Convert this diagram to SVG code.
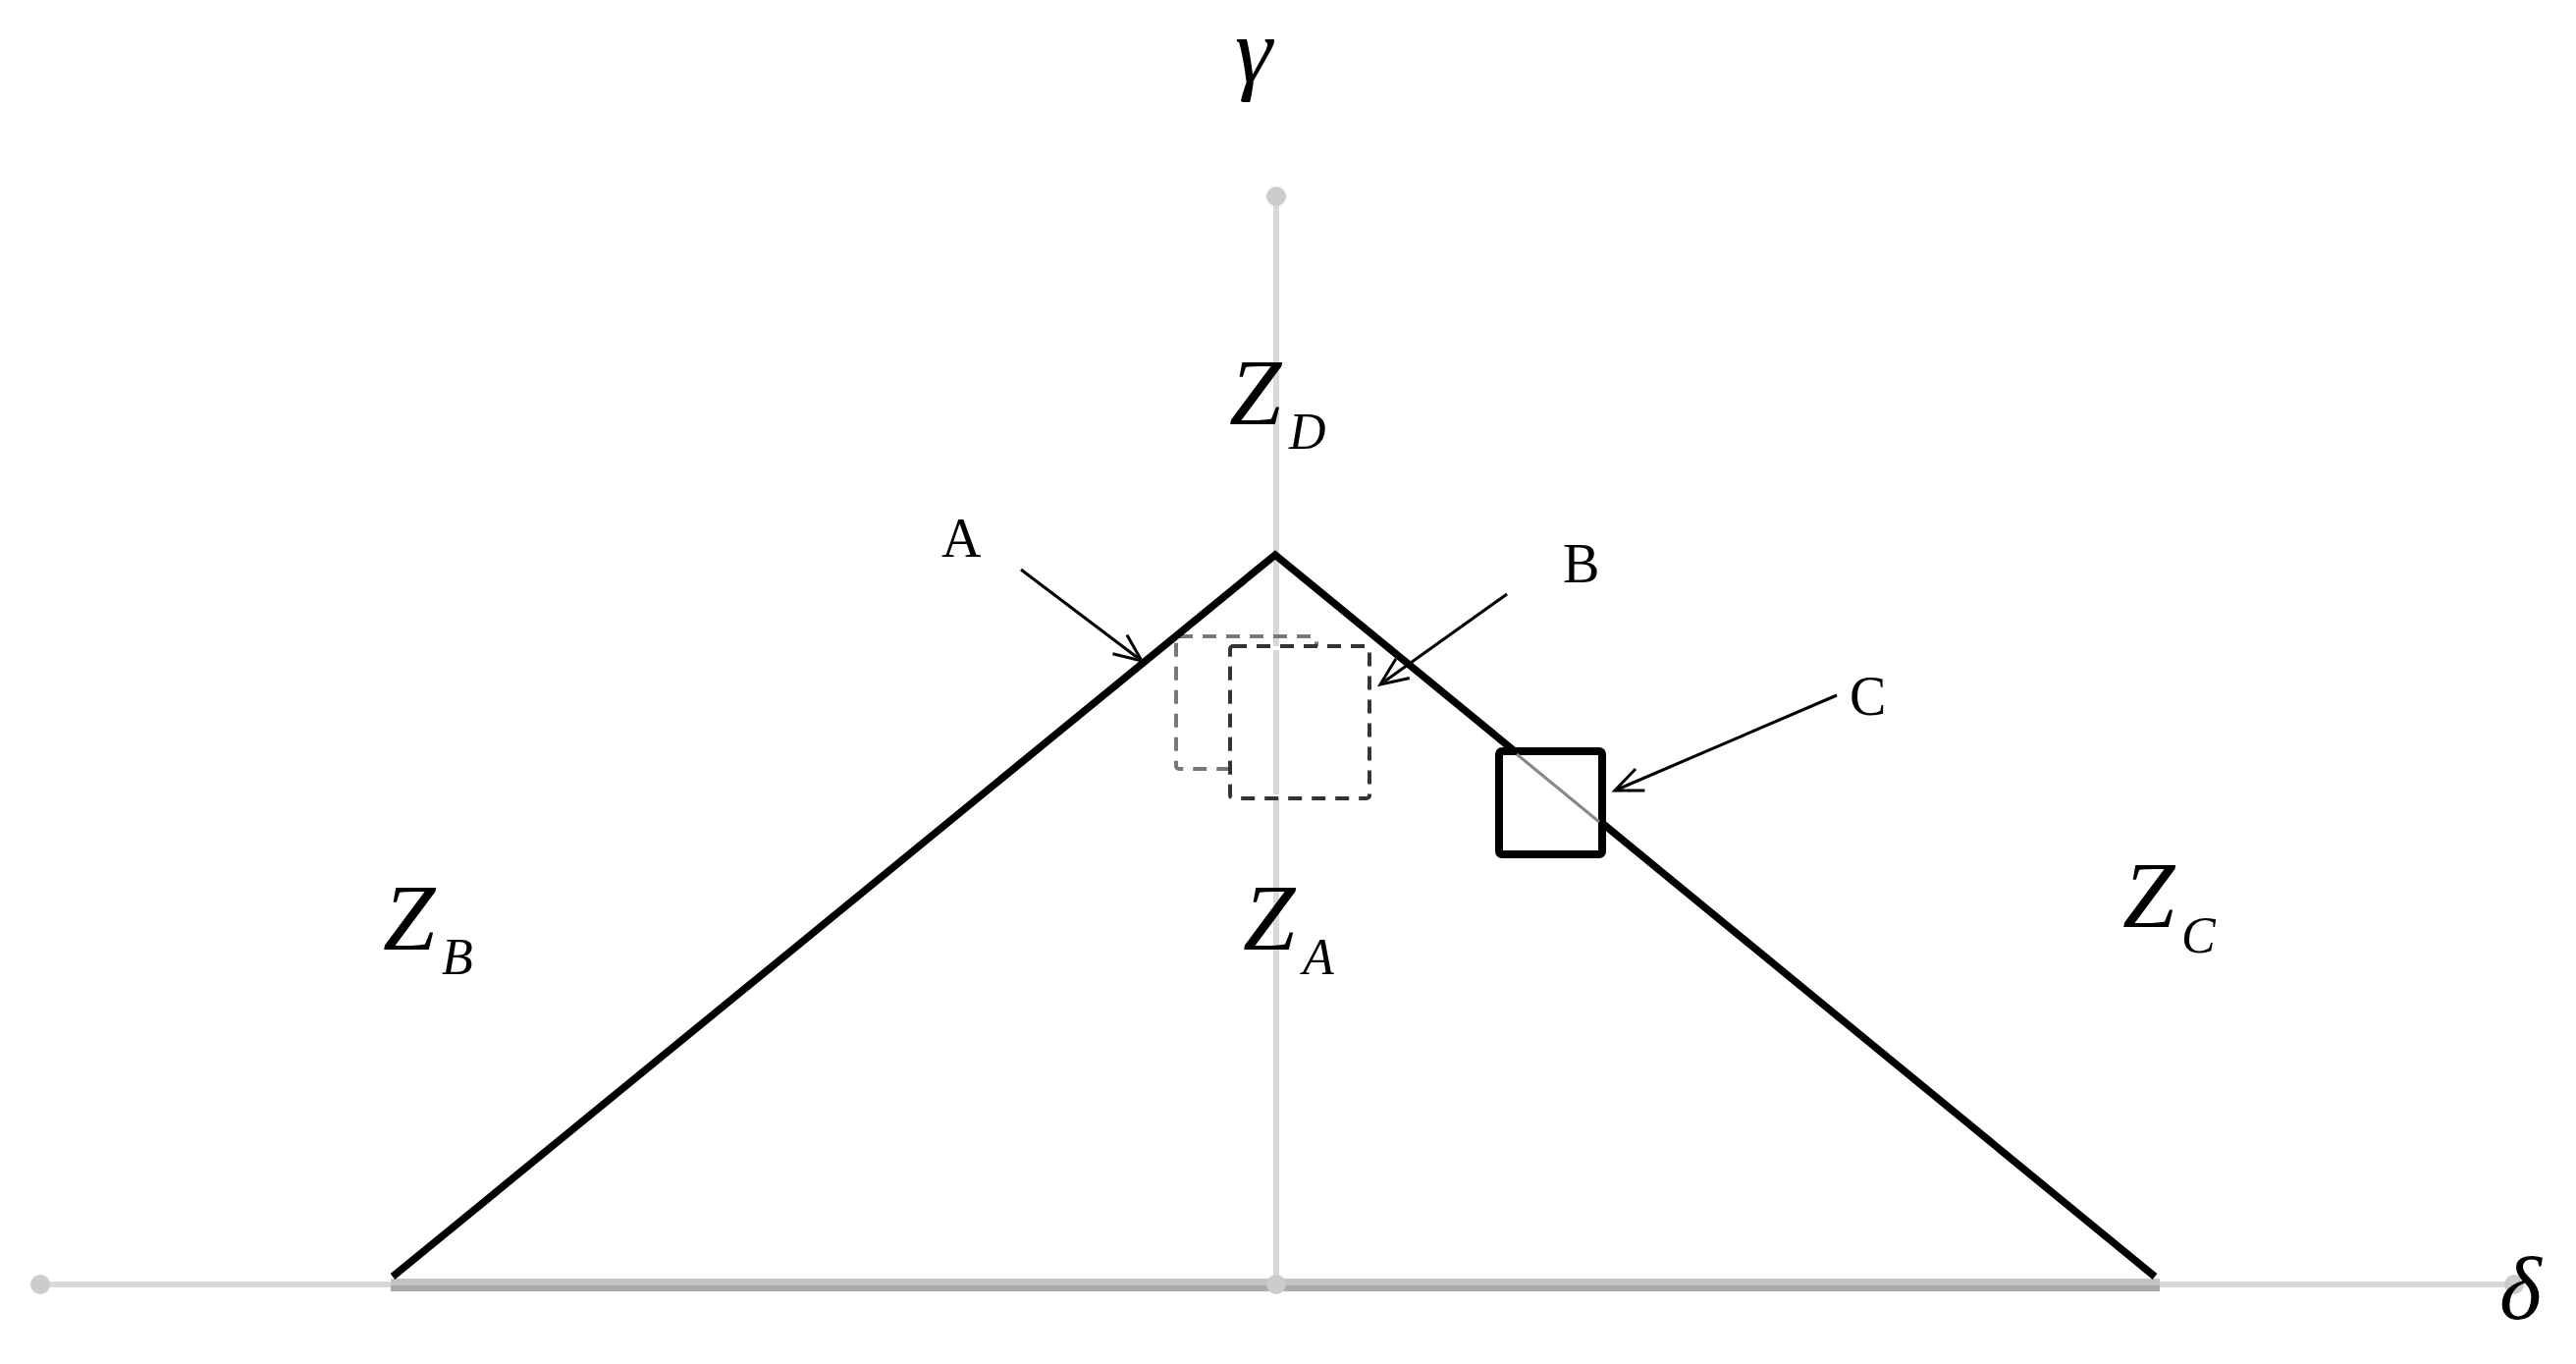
<svg xmlns="http://www.w3.org/2000/svg" width="2624" height="1389" viewBox="0 0 2624 1389">
<style>
.axis{stroke:#d9d9d9;stroke-width:6;fill:none}
.dot{fill:#cccccc}
.tri{stroke:#000;stroke-width:7.5;fill:none;stroke-linejoin:miter}
.arrow{stroke:#000;stroke-width:3;fill:none;marker-end:url(#open)}
.lbl{font-family:"Liberation Serif","Times New Roman",serif;font-size:56px;fill:#000}
.it{font-family:"Liberation Serif","Times New Roman",serif;font-style:italic;fill:#000}
.dash1{fill:none;stroke:#777;stroke-width:4;stroke-dasharray:14 10;stroke-linejoin:round}
.dash2{fill:#fff;stroke:#333;stroke-width:4;stroke-dasharray:14 10;stroke-linejoin:round}
</style>
<defs>
<marker id="open" markerUnits="userSpaceOnUse" markerWidth="40" markerHeight="30" viewBox="-32 -15 40 30" refX="0" refY="0" orient="auto">
<path d="M-28,-12 L0,0 L-28,12" fill="none" stroke="#000" stroke-width="3"/>
</marker>
</defs>
<rect width="2624" height="1389" fill="#fff"/>
<g id="axes">
<line class="axis" x1="1300" y1="200" x2="1300" y2="1308"/>
<line class="axis" x1="41" y1="1308" x2="2561" y2="1308"/>
<rect x="398" y="1302" width="1802" height="7" fill="#c4c4c4"/>
<rect x="398" y="1309" width="1802" height="6" fill="#a9a9a9"/>
<circle class="dot" cx="1300" cy="200" r="10"/>
<circle class="dot" cx="41" cy="1308" r="10"/>
<circle class="dot" cx="1300" cy="1308" r="10"/>
<circle class="dot" cx="2561" cy="1308" r="10"/>
</g>
<g id="square-A">
<rect class="dash1" x="1198" y="648" width="143" height="135" rx="3"/>
</g>
<g id="square-B">
<rect class="dash2" x="1253" y="658" width="142" height="155" rx="3"/>
<line class="axis" x1="1300" y1="662" x2="1300" y2="809"/>
</g>
<g id="triangle">
<polyline class="tri" points="400,1300 1299,565 2195,1300"/>
</g>
<g id="square-C">
<rect x="1527" y="765" width="105" height="105" rx="3" fill="#fff" stroke="#000" stroke-width="8"/>
<line x1="1545" y1="768" x2="1629" y2="837" stroke="#888" stroke-width="3"/>
</g>
<g id="connectors">
<line class="arrow" x1="1040" y1="580" x2="1163" y2="673"/>
<line class="arrow" x1="1535" y1="605" x2="1406" y2="697"/>
<line class="arrow" x1="1871" y1="708" x2="1645" y2="805"/>
</g>
<g id="labels">
<text class="lbl" x="959" y="567">A</text>
<text class="lbl" x="1592" y="593">B</text>
<text class="lbl" x="1884" y="728">C</text>
<text class="it" x="1258" y="84" font-size="96">γ</text>
<text class="it" x="2546" y="1343" font-size="92">δ</text>
</g>
<g id="zone-D">
<text class="it" x="1252" y="432" font-size="96">Z</text>
<text class="it" x="1313" y="457" font-size="52">D</text>
</g>
<g id="zone-B">
<text class="it" x="390" y="967" font-size="96">Z</text>
<text class="it" x="450" y="992" font-size="52">B</text>
</g>
<g id="zone-A">
<text class="it" x="1266" y="967" font-size="96">Z</text>
<text class="it" x="1327" y="992" font-size="52">A</text>
</g>
<g id="zone-C">
<text class="it" x="2162" y="944" font-size="96">Z</text>
<text class="it" x="2222" y="970" font-size="52">C</text>
</g>
</svg>
